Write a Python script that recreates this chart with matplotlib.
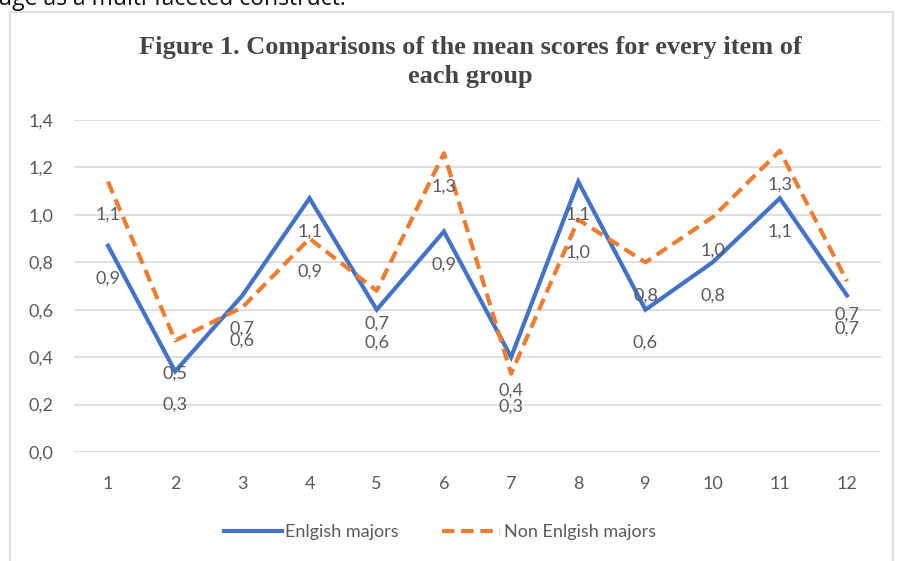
import numpy as np
import matplotlib
matplotlib.use('Agg')
import matplotlib.pyplot as plt
import matplotlib.patches as mpatches
from matplotlib.ticker import FuncFormatter

# mean score per item
items = list(range(1, 13))
english = [0.87, 0.34, 0.66, 1.07, 0.60, 0.93, 0.40, 1.14, 0.60, 0.80, 1.07, 0.66]
non_english = [1.14, 0.47, 0.61, 0.90, 0.68, 1.26, 0.33, 0.98, 0.80, 0.99, 1.27, 0.72]
y_ticks = [0.0, 0.2, 0.4, 0.6, 0.8, 1.0, 1.2, 1.4]

BLUE = '#4472C4'
ORANGE = '#ED7D31'
GREY = '#595959'
SANS = ['Lato', 'DejaVu Sans']

def comma(v, pos=None):
    return f'{v:.1f}'.replace('.', ',')

fig = plt.figure(figsize=(8.99, 5.61), dpi=100)
fig.patch.set_facecolor('white')

# chart frame + text cut off from the page above
fig.patches.append(mpatches.Rectangle((10/899, -0.05), 883/899, 1.05 - 12/561,
                                      transform=fig.transFigure, fill=False,
                                      edgecolor='#D9D9D9', lw=1.2))
fig.text(-0.002, 1 - 5/561, 'uge as a multi-faceted construct.', ha='left', va='baseline',
         fontsize=16.5, family=['Open Sans', 'DejaVu Sans'], color='#111111')

ax = fig.add_axes([74.4/899, 1 - 452/561, 806.2/899, 332/561])
ax.plot(items, english, color=BLUE, lw=3.0, solid_joinstyle='miter', zorder=3,
        label='Enlgish majors')
ax.plot(items, non_english, color=ORANGE, lw=3.0, ls=(0, (3, 1.6)), zorder=3,
        label='Non Enlgish majors')

for x, v in zip(items, english):
    ax.annotate(comma(v), (x, v), xytext=(0, -24), textcoords='offset points',
                ha='center', va='center', fontsize=13, color=GREY, family=SANS, zorder=4)
for x, v in zip(items, non_english):
    ax.annotate(comma(v), (x, v), xytext=(0, -24), textcoords='offset points',
                ha='center', va='center', fontsize=13, color=GREY, family=SANS, zorder=4)

ax.set_xlim(0.5, 12.5)
ax.set_ylim(0, 1.4)
ax.set_xticks(items)
ax.set_yticks(y_ticks)
ax.yaxis.set_major_formatter(FuncFormatter(comma))
ax.grid(axis='y', color='#D9D9D9', lw=1.2)
ax.set_axisbelow(True)
for s in ax.spines.values():
    s.set_visible(False)
ax.tick_params(length=0, labelsize=13, labelcolor=GREY)
ax.tick_params(axis='x', pad=17)
ax.tick_params(axis='y', pad=15)
for lbl in ax.get_xticklabels() + ax.get_yticklabels():
    lbl.set_family(SANS)

fig.text(470/899, 1 - 62/561,
         'Figure 1. Comparisons of the mean scores for every item of\neach group',
         ha='center', va='center', fontsize=19, fontweight='bold', color='#454545',
         family=['Liberation Serif', 'DejaVu Serif'], linespacing=1.28)

fig.legend(loc='center', bbox_to_anchor=(440/899, 1 - 532/561), ncol=2, frameon=False,
           handlelength=3.2, columnspacing=2.4, handletextpad=0.2,
           prop={'family': SANS, 'size': 13}, labelcolor=GREY)

fig.savefig('out.png', dpi=100, facecolor='white')
